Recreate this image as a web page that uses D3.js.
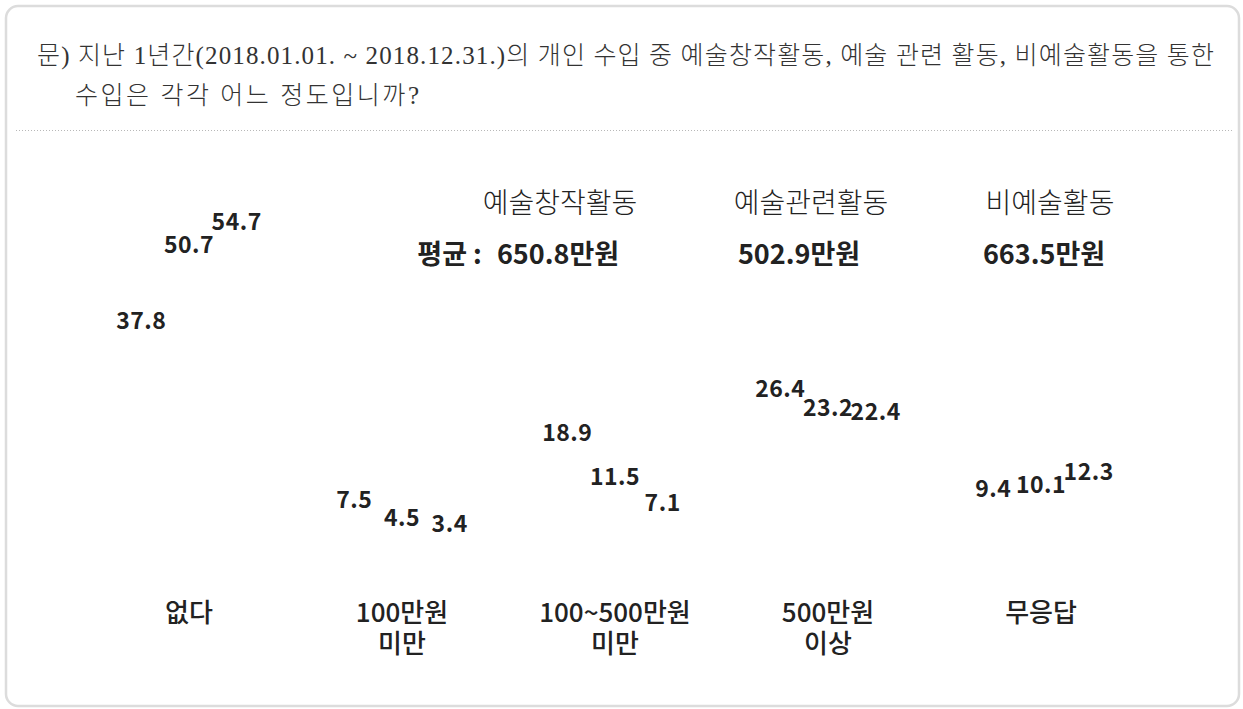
<!DOCTYPE html>
<html>
<head>
<meta charset="utf-8">
<script src="https://cdn.jsdelivr.net/npm/d3@7"></script>
<style>
  body { margin: 0; background: #fff; }
  svg { display: block; }
</style>
</head>
<body>
<div class="canvas"></div>
<script>
// data
const categories = ['없다', '100만원\n미만', '100~500만원\n미만', '500만원\n이상', '무응답'];
const seriesNames = ['예술창작활동', '예술관련활동', '비예술활동'];
const creative = [37.8, 7.5, 18.9, 26.4, 9.4];
const related = [50.7, 4.5, 11.5, 23.2, 10.1];
const nonArt = [54.7, 3.4, 7.1, 22.4, 12.3];
const averages = [650.8, 502.9, 663.5];
const questionLines = [
  '문) 지난 1년간(2018.01.01. ~ 2018.12.31.)의 개인 수입 중 예술창작활동, 예술 관련 활동, 비예술활동을 통한',
  '수입은 각각 어느 정도입니까?'
];

const width = 1243, height = 709;
const sans = '"Noto Sans CJK KR", "Noto Sans", sans-serif';
const serif = '"Liberation Serif", "Noto Sans CJK KR", serif';

const svg = d3.select('.canvas')
  .append('svg')
    .attr('width', width)
    .attr('height', height);

// card frame
svg.append('rect')
  .attr('x', 6).attr('y', 6)
  .attr('width', 1233).attr('height', 700)
  .attr('rx', 12)
  .attr('fill', '#fff')
  .attr('stroke', '#dcdcdc')
  .attr('stroke-width', 2.5);

// question text
svg.append('text')
  .attr('x', 37).attr('y', 64)
  .attr('font-family', serif).attr('font-size', 25).attr('font-weight', 300)
  .attr('fill', '#333')
  .attr('textLength', 1177).attr('lengthAdjust', 'spacing')
  .text(questionLines[0]);
svg.append('text')
  .attr('x', 75).attr('y', 104)
  .attr('font-family', serif).attr('font-size', 25).attr('font-weight', 300)
  .attr('fill', '#333')
  .attr('textLength', 344).attr('lengthAdjust', 'spacing')
  .text(questionLines[1]);

// dotted separator
svg.append('line')
  .attr('x1', 16).attr('x2', 1234)
  .attr('y1', 130.5).attr('y2', 130.5)
  .attr('stroke', '#b8b8b8')
  .attr('stroke-dasharray', '1,2');

// scales
const x0 = d3.scaleBand()
  .domain(categories)
  .range([82.5, 1147.5]);

const x1 = d3.scaleBand()
  .domain(seriesNames)
  .range([35, 178]);

const y = d3.scaleLinear()
  .domain([0, 60])
  .range([560, 206]);

const legendX = d3.scalePoint()
  .domain(seriesNames)
  .range([560, 1050]);

// series headers
svg.selectAll('.series-head')
  .data(seriesNames)
  .enter().append('text')
    .attr('class', 'series-head')
    .attr('x', d => legendX(d) + (d === '예술관련활동' ? 6 : 0))
    .attr('y', 213)
    .attr('text-anchor', 'middle')
    .attr('font-family', sans).attr('font-size', 28).attr('font-weight', 300)
    .attr('fill', '#222')
    .text(d => d);

// averages
const avg = svg.selectAll('.avg')
  .data(averages)
  .enter().append('text')
    .attr('class', 'avg')
    .attr('x', (d, i) => legendX(seriesNames[i]) - (i === 0 ? 2 : 6))
    .attr('y', 264)
    .attr('text-anchor', 'middle')
    .attr('font-family', sans).attr('font-size', 27).attr('font-weight', 'bold')
    .attr('fill', '#222')
    .text(d => d3.format('.1f')(d) + '만원');

const firstAvg = avg.nodes()[0];
const firstLeft = legendX(seriesNames[0]) - 2 - firstAvg.getComputedTextLength() / 2;
svg.append('text')
  .attr('x', firstLeft - 15)
  .attr('y', 264)
  .attr('text-anchor', 'end')
  .attr('font-family', sans).attr('font-size', 27).attr('font-weight', 'bold')
  .attr('fill', '#222')
  .text('평균 :');

// value labels
const rows = categories.map((c, i) => ({
  cat: c,
  values: [creative[i], related[i], nonArt[i]]
}));

const groups = svg.selectAll('.group')
  .data(rows)
  .enter().append('g')
    .attr('class', 'group')
    .attr('transform', d => `translate(${x0(d.cat)}, 0)`);

groups.selectAll('text')
  .data(d => d.values.map((v, j) => ({ series: seriesNames[j], value: v })))
  .enter().append('text')
    .attr('x', d => x1(d.series) + x1.bandwidth() / 2)
    .attr('y', d => y(d.value) - 7.5)
    .attr('text-anchor', 'middle')
    .attr('font-family', sans).attr('font-size', 23).attr('font-weight', 'bold')
    .attr('letter-spacing', 0.5)
    .attr('fill', '#222')
    .text(d => d3.format('.1f')(d.value));

// category axis
const xAxis = d3.axisBottom(x0).tickSize(0).tickPadding(0);
const xAxisGroup = svg.append('g')
  .attr('transform', 'translate(0, 622)')
  .call(xAxis);

xAxisGroup.select('.domain').remove();
xAxisGroup.selectAll('.tick text')
  .attr('font-family', sans).attr('font-size', 26).attr('font-weight', 500)
  .attr('fill', '#222')
  .each(function(d) {
    const el = d3.select(this);
    el.text(null).attr('y', 0).attr('dy', null);
    d.split('\n').forEach((line, i) => {
      el.append('tspan').attr('x', 0).attr('y', i * 31).text(line);
    });
  });
</script>
</body>
</html>
